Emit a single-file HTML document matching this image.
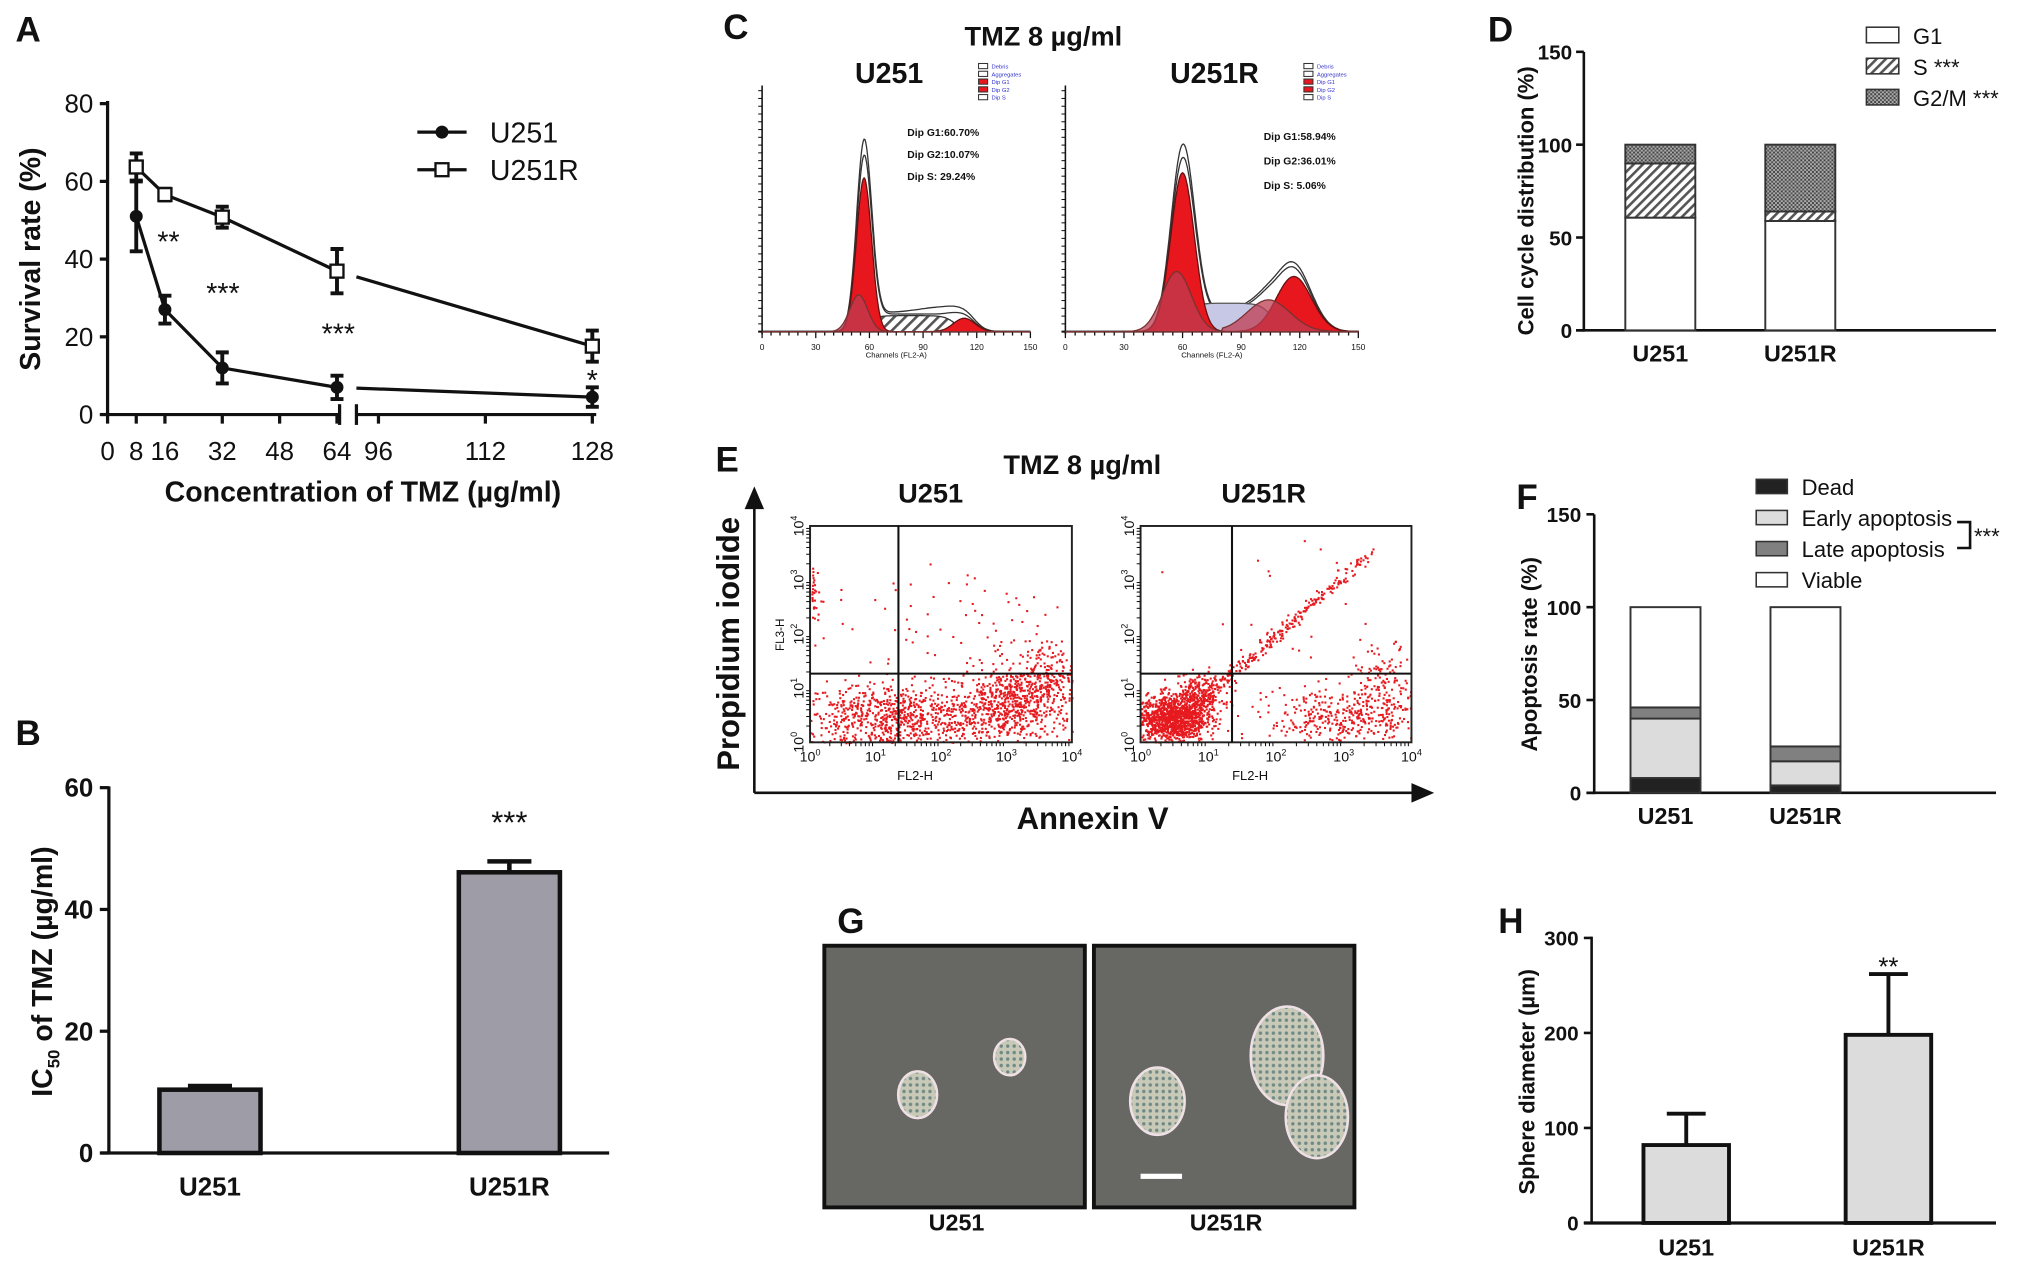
<!DOCTYPE html>
<html><head><meta charset="utf-8">
<style>
html,body{margin:0;padding:0;background:#fff;width:2031px;height:1267px;overflow:hidden}
svg{display:block}
text{font-family:"Liberation Sans",sans-serif;fill:#111}
.b{font-weight:bold}
</style></head>
<body>
<svg id="fig" xmlns="http://www.w3.org/2000/svg" width="2031" height="1267" viewBox="0 0 1567 978" preserveAspectRatio="none">
<defs>
<pattern id="hatch" patternUnits="userSpaceOnUse" width="5" height="5" patternTransform="rotate(45)">
<rect width="5" height="5" fill="#fff"/><rect width="2" height="5" fill="#555"/></pattern>
<pattern id="dots" patternUnits="userSpaceOnUse" width="3" height="3">
<rect width="3" height="3" fill="#aaa"/><rect width="1.5" height="1.5" fill="#444"/><rect x="1.5" y="1.5" width="1.5" height="1.5" fill="#555"/></pattern>
<pattern id="chatch" patternUnits="userSpaceOnUse" width="6" height="6" patternTransform="rotate(45)">
<rect width="6" height="6" fill="#fff"/><rect width="2" height="6" fill="#555"/></pattern>
<pattern id="cells" patternUnits="userSpaceOnUse" width="5" height="5">
<rect width="5" height="5" fill="#c9c9b8"/><circle cx="2.5" cy="2.5" r="1.3" fill="#6f8a86"/></pattern>
</defs>
<g id="root"></g>
</svg>
<script>
// ---------- Panel A data ----------
const A_conc=[8,16,32,64,128];
const A_u251=[51,27,12,7,4.5];
const A_u251Err=[9,3.6,4,3,2.5];
const A_u251r=[63.7,56.6,50.8,36.9,17.6];
const A_u251rErr=[3.5,1.5,2.7,5.7,4];
const A_yTicks=[0,20,40,60,80];
const A_xTicks=[0,8,16,32,48,64,96,112,128];
const A_stars=["**","***","***","*"];
// ---------- Panel B ----------
const B_groups=["U251","U251R"];
const B_vals=[10.4,46.1];
const B_errs=[0.6,1.8];
const B_yTicks=[0,20,40,60];
// ---------- Panel D ----------
const D_groups=["U251","U251R"];
const D_G1=[60.7,58.9];
const D_S=[29.2,5.1];
const D_G2=[10.1,36.0];
const D_yTicks=[0,50,100,150];
// ---------- Panel F ----------
const F_groups=["U251","U251R"];
const F_dead=[8,4];
const F_early=[32,13];
const F_late=[6,8];
const F_viable=[54,75];
const F_yTicks=[0,50,100,150];
// ---------- Panel H ----------
const H_groups=["U251","U251R"];
const H_vals=[82,198];
const H_errs=[33,64];
const H_yTicks=[0,100,200,300];
// ---------- Panel C (histogram component params: mean channel, sd, height) ----------
const C1_G1=[57,4.2,460]; const C1_dark=[54,5,110]; const C1_G2=[113,6,40]; const C1_S=[58,108,48];
const C2_G1=[60,6,475]; const C2_dark=[57,7.5,180]; const C2_G2=[117,9,165]; const C2_darkG2=[104,11,95]; const C2_S=[60,106,85];
const C_texts1=["Dip G1:60.70%","Dip G2:10.07%","Dip S: 29.24%"];
const C_texts2=["Dip G1:58.94%","Dip G2:36.01%","Dip  S: 5.06%"];
// ---------- Panel E clusters [cx,cy,sx,sy,n] in log decades ----------
const E1_clusters=[[1.3,0.45,0.9,0.32,900],[3.1,0.7,0.45,0.35,600],[3.5,1.25,0.25,0.3,180],[2.4,2.3,1.1,0.6,70],[0.05,2.7,0.05,0.35,40]];
const E2_clusters=[[0.45,0.45,0.25,0.22,1100],[0.85,0.85,0.18,0.2,300],[3.0,0.45,0.55,0.3,380],[3.6,1.1,0.22,0.35,120],[2.5,2.2,1.0,0.8,25]];
const E2_diag=[1.0,3.4,260];

const NS="http://www.w3.org/2000/svg";
const root=document.getElementById('root');
function el(tag,attrs,parent,txt){const e=document.createElementNS(NS,tag);for(const k in attrs)e.setAttribute(k,attrs[k]);if(txt!==undefined)e.textContent=txt;(parent||root).appendChild(e);return e;}
function grp(name){const g=el('g',{});return g;}
function label(g,x,y,t,size,anchor,bold,name,rot){const e=el('text',{x:x,y:y,'font-size':size,'text-anchor':anchor||'middle'},g,t);if(bold)e.setAttribute('font-weight','bold');if(rot)e.setAttribute('transform','rotate(-90 '+x+' '+y+')');return e;}
function line(g,x1,y1,x2,y2,w,c){return el('line',{x1:x1,y1:y1,x2:x2,y2:y2,stroke:c||'#111','stroke-width':w||2},g);}

// panel letters
[["A",12,32],["B",12,575],["C",558,30],["D",1148,32],["E",552,364],["F",1170,393],["G",646,720],["H",1156,720]].forEach(p=>{label(root,p[1],p[2],p[0],27,'start',true,'panel-label-'+p[0].toLowerCase());});

// ================= Panel A =================
(function(){
const g=grp('panel-a-survival-chart');
const xA=v=>v<=64?83+v*(177/64):292+(v-96)*(165/32);
const yA=v=>320-v*3;
line(g,83,78,83,321,2.5);
line(g,83,320,262,320,2.5);line(g,275,320,460,320,2.5);
line(g,262,312,262,328,2.5);line(g,275,312,275,328,2.5);
A_yTicks.forEach(v=>{line(g,77,yA(v),83,yA(v),2.5);label(g,72,yA(v)+7,String(v),20,'end',false,'y-tick-label');});
A_xTicks.forEach(v=>{const x=xA(v);line(g,x,320,x,327,2.5);label(g,x,355,String(v),20,'middle',false,'x-tick-label');});
label(g,280,387,"Concentration of TMZ (µg/ml)",22,'middle',true,'x-axis-title');
label(g,31,200,"Survival rate (%)",22,'middle',true,'y-axis-title',true);
function series(vals,errs,name,open){
  const sg=el('g',{},g);
  for(let i=0;i<vals.length-1;i++){
    let x1=xA(A_conc[i]),y1=yA(vals[i]),x2=xA(A_conc[i+1]),y2=yA(vals[i+1]);
    if(A_conc[i]===64){const t=(275-x1)/(x2-x1);y1=y1+(y2-y1)*t;x1=275;}
    const l=line(sg,x1,y1,x2,y2,2.5);
  }
  vals.forEach((v,i)=>{
    const x=xA(A_conc[i]);const e=errs[i];
    const eb=el('path',{d:`M${x},${yA(v+e)}V${yA(v-e)}M${x-5},${yA(v+e)}H${x+5}M${x-5},${yA(v-e)}H${x+5}`,stroke:'#111','stroke-width':3,fill:'none'},sg);
    
    let m;
    if(open)m=el('rect',{x:x-5,y:yA(v)-5,width:10,height:10,fill:'#fff',stroke:'#111','stroke-width':1.8},sg);
    else m=el('circle',{cx:x,cy:yA(v),r:5,fill:'#111'},sg);
    
  });
}
series(A_u251,A_u251Err,'u251',false);
series(A_u251r,A_u251rErr,'u251r',true);
const starPos=[[130,194],[172,234],[261,265],[457,301]];
A_stars.forEach((s,i)=>label(g,starPos[i][0],starPos[i][1],s,22,'middle',false,'significance-stars'));
const lg=el('g',{},g);
line(lg,322,102,360,102,2.5);el('circle',{cx:341,cy:102,r:5,fill:'#111'},lg);label(lg,378,110,"U251",22,'start',false,'legend-entry-u251');
line(lg,322,131,360,131,2.5);el('rect',{x:336,y:126,width:10,height:10,fill:'#fff',stroke:'#111','stroke-width':1.8},lg);label(lg,378,139,"U251R",22,'start',false,'legend-entry-u251r');
})();

// ================= Panel B =================
(function(){
const g=grp('panel-b-ic50-chart');
const yB=v=>890-v*(282/60);
const xs=[162,393],w=78;
line(g,84,607,84,891,2.5);line(g,78,890,470,890,2.5);
B_yTicks.forEach(v=>{line(g,77,yB(v),84,yB(v),2.5);label(g,72,yB(v)+7,String(v),20,'end',true,'y-tick-label');});
B_groups.forEach((gname,i)=>{
  const x=xs[i];
  const eb=el('path',{d:`M${x},${yB(B_vals[i])}V${yB(B_vals[i]+B_errs[i])}M${x-17},${yB(B_vals[i]+B_errs[i])}H${x+17}`,stroke:'#111','stroke-width':3.5,fill:'none'},g);
  
  const r=el('rect',{x:x-w/2,y:yB(B_vals[i]),width:w,height:yB(0)-yB(B_vals[i]),fill:'#9e9ca6',stroke:'#111','stroke-width':3.5},g);
  
  label(g,x,923,gname,20,'middle',true,'x-tick-label');
});
label(g,xs[1],643,"***",24,'middle',false,'significance-stars');
const t=label(g,40,750,"",22,'middle',true,'y-axis-title',true);
el('tspan',{},t,"IC");el('tspan',{'font-size':13,dy:6},t,"50");el('tspan',{dy:-6},t," of TMZ (µg/ml)");
})();

// ================= Panel C =================
function gauss(ch,p){return p[2]*Math.exp(-0.5*Math.pow((ch-p[0])/p[1],2));}
function plateau(ch,p){const e=3;const a=1/(1+Math.exp(-(ch-p[0])/e)),b=1/(1+Math.exp((ch-p[1])/e));return p[2]*a*b;}
function histo(g,x0,x1,top,comps,name){
  const base=256;const xC=ch=>x0+ch*(x1-x0)/150;const yC=v=>base-v*0.258;
  line(g,x0,top,x0,base+2,1.2);line(g,x0-3,base,x1,base,1.5);
  for(let c=0;c<=150;c+=5){line(g,xC(c),base,xC(c),base+(c%30==0?5:3),1);}
  [0,30,60,90,120,150].forEach(c=>label(g,xC(c),base+14,String(c),6.5,'middle',false,'x-tick-label'));
  for(let y=base;y>top;y-=6)line(g,x0-3,y,x0,y,0.8);
  label(g,(x0+x1)/2,base+20,"Channels (FL2-A)",6,'middle',false,'x-axis-title');
  function area(fn,fill,stroke,nm){let d=`M${xC(0)},${base}`;for(let c=0;c<=150;c+=0.5)d+=`L${xC(c).toFixed(1)},${yC(fn(c)).toFixed(1)}`;d+=`L${xC(150)},${base}Z`;const p=el('path',{d:d,fill:fill,stroke:stroke||'none','stroke-width':1},g);return p;}
  comps.forEach(c=>area(c.fn,c.fill,c.stroke,c.name));
}
(function(){
const g=grp('panel-c-cell-cycle-histograms');
label(g,805,35,"TMZ 8 µg/ml",21,'middle',true,'panel-c-title');
label(g,686,64,"U251",22,'middle',true,'histogram-title-u251');
label(g,937,64,"U251R",22,'middle',true,'histogram-title-u251r');
const tot1=c=>gauss(c,C1_G1)+plateau(c,C1_S)+gauss(c,C1_G2);
histo(g,588,795,66,[
 {fn:c=>tot1(c)*1.2+gauss(c,[100,12,16]),fill:'none',stroke:'#333',name:'envelope-outer'},
 {fn:c=>tot1(c)*1.1,fill:'#fff',stroke:'#333',name:'envelope'},
 {fn:c=>plateau(c,C1_S),fill:'url(#chatch)',stroke:'#333',name:'s-phase'},
 {fn:c=>gauss(c,C1_G1),fill:'#e8171e',stroke:'#611',name:'g1-peak'},
 {fn:c=>gauss(c,C1_G2),fill:'#e8171e',stroke:'#611',name:'g2-peak'},
 {fn:c=>gauss(c,C1_dark),fill:'rgba(190,60,80,0.75)',stroke:'#733',name:'debris'}
],'u251-histogram');
const tot2=c=>gauss(c,C2_G1)+plateau(c,C2_S)*0.6+gauss(c,C2_G2)+gauss(c,C2_darkG2)*0.4;
histo(g,822,1048,66,[
 {fn:c=>tot2(c)*1.12,fill:'none',stroke:'#333',name:'envelope-outer'},
 {fn:c=>tot2(c)*1.04,fill:'#fff',stroke:'#333',name:'envelope'},
 {fn:c=>plateau(c,C2_S),fill:'#c7c8e6',stroke:'#555',name:'s-phase'},
 {fn:c=>gauss(c,C2_G1),fill:'#e8171e',stroke:'#611',name:'g1-peak'},
 {fn:c=>gauss(c,C2_G2),fill:'#e8171e',stroke:'#611',name:'g2-peak'},
 {fn:c=>gauss(c,C2_dark)+gauss(c,C2_darkG2)*(c>80?1:0),fill:'rgba(190,60,80,0.75)',stroke:'#733',name:'debris'}
],'u251r-histogram');
C_texts1.forEach((t,i)=>{const e=label(g,700,105+i*17,t,8,'start',true,'u251-percent-text');e.setAttribute('font-family','Liberation Mono, monospace');});
C_texts2.forEach((t,i)=>{const e=label(g,975,108+i*19,t,8,'start',true,'u251r-percent-text');e.setAttribute('font-family','Liberation Mono, monospace');});
[[755,49],[1006,49]].forEach((p,j)=>{
 const lg=el('g',{},g);
 ["Debris","Aggregates","Dip G1","Dip G2","Dip S"].forEach((t,i)=>{
  el('rect',{x:p[0],y:p[1]+i*6,width:7,height:4,fill:(i==2||i==3)?'#e8171e':'#fff',stroke:'#333','stroke-width':0.8},lg);
  el('text',{x:p[0]+10,y:p[1]+i*6+4,'font-size':4.5,style:'fill:#33c'},lg,t);
 });
});
})();

// ================= Panel D =================
(function(){
const g=grp('panel-d-cell-cycle-chart');
const yD=v=>255-v*(215/150);const xs=[1281,1389],w=54;
line(g,1222,40,1222,256,2);line(g,1216,255,1540,255,2);
D_yTicks.forEach(v=>{line(g,1216,yD(v),1222,yD(v),2);label(g,1213,yD(v)+6,String(v),16,'end',true,'y-tick-label');});
D_groups.forEach((gn,i)=>{
 const segs=[[0,D_G1[i],'#fff','g1'],[D_G1[i],D_G1[i]+D_S[i],'url(#hatch)','s'],[D_G1[i]+D_S[i],D_G1[i]+D_S[i]+D_G2[i],'url(#dots)','g2m']];
 segs.forEach(s=>{const r=el('rect',{x:xs[i]-w/2,y:yD(s[1]),width:w,height:yD(s[0])-yD(s[1]),fill:s[2],stroke:'#333','stroke-width':1.5},g);});
 label(g,xs[i],279,gn,18,'middle',true,'x-tick-label');
});
label(g,1183,155,"Cell cycle distribution (%)",17,'middle',true,'y-axis-title',true);
const lg=el('g',{},g);
[["G1",'#fff'],["S  ***",'url(#hatch)'],["G2/M ***",'url(#dots)']].forEach((e,i)=>{
 el('rect',{x:1440,y:21+i*24,width:25,height:12,fill:e[1],stroke:'#333','stroke-width':1.2},lg);
 label(lg,1476,34+i*24,e[0],17,'start',false,'legend-entry');
});
})();

// ================= Panel E =================
let seed=12345;function rnd(){seed=(seed*1103515245+12345)%2147483648;return seed/2147483648;}
function nrm(){let u=rnd()||1e-6,v=rnd();return Math.sqrt(-2*Math.log(u))*Math.cos(2*Math.PI*v);}
function scatter(g,x0,x1,y0,y1,clusters,diag,qx,name){
 const xL=v=>x0+v/4*(x1-x0),yL=v=>y1-v/4*(y1-y0);
 const pg=el('g',{fill:'#e61a1f'},g);
 function pt(a,b){if(a<0||a>4||b<0||b>4)return;el('rect',{x:xL(a).toFixed(1),y:yL(b).toFixed(1),width:1.6,height:1.6},pg);}
 clusters.forEach(c=>{for(let k=0;k<c[4];k++)pt(c[0]+nrm()*c[2],c[1]+nrm()*c[3]);});
 if(diag){for(let k=0;k<diag[2];k++){const t=diag[0]+rnd()*(diag[1]-diag[0]);pt(t+nrm()*0.05,t*1.1-0.2+nrm()*0.06);}}
 const b=el('rect',{x:x0,y:y0,width:x1-x0,height:y1-y0,fill:'none',stroke:'#222','stroke-width':1.5},g);
 line(g,xL(qx),y0,xL(qx),y1,1.6);line(g,x0,yL(1.27),x1,yL(1.27),1.6);
 for(let d=0;d<=4;d++){
  const tx=el('text',{x:xL(d),y:y1+15,'font-size':11,'text-anchor':'middle'},g);tx.appendChild(document.createTextNode('10'));el('tspan',{'font-size':7,dy:-5},tx,String(d));
  const ty=el('text',{x:x0-5,y:yL(d),'font-size':11,'text-anchor':'middle',transform:`rotate(-90 ${x0-5} ${yL(d)})`},g);ty.appendChild(document.createTextNode('10'));el('tspan',{'font-size':7,dy:-5},ty,String(d));
  for(let m=2;m<10&&d<4;m++){const f=d+Math.log10(m);line(g,xL(f),y1,xL(f),y1+3,0.8);line(g,x0-3,yL(f),x0,yL(f),0.8);}
 }
 label(g,(x0+x1)/2-20,y1+29,"FL2-H",10,'middle',false,'x-axis-label');
}
(function(){
const g=grp('panel-e-flow-cytometry');
label(g,835,366,"TMZ 8 µg/ml",21,'middle',true,'panel-e-title');
label(g,718,388,"U251",21,'middle',true,'scatter-title-u251');
label(g,975,388,"U251R",21,'middle',true,'scatter-title-u251r');
scatter(g,625,827,406,573,E1_clusters,null,1.35,'u251-scatter');
label(g,605,490,"FL3-H",9,'middle',false,'y-axis-label',true);
scatter(g,880,1089,406,573,E2_clusters,E2_diag,1.35,'u251r-scatter');
const ax=el('path',{d:'M582,612V382M576,392L582,378L588,392Z M582,612H1100M1090,606L1104,612L1090,618Z',stroke:'#111','stroke-width':2,fill:'#111'},g);
label(g,570,497,"Propidium iodide",24,'middle',true,'y-axis-title',true);
label(g,843,640,"Annexin V",24,'middle',true,'x-axis-title');
})();

// ================= Panel F =================
(function(){
const g=grp('panel-f-apoptosis-chart');
const yF=v=>612-v*(215/150);const xs=[1285,1393],w=54;
line(g,1230,397,1230,613,2);line(g,1224,612,1540,612,2);
F_yTicks.forEach(v=>{line(g,1224,yF(v),1230,yF(v),2);label(g,1220,yF(v)+6,String(v),16,'end',true,'y-tick-label');});
F_groups.forEach((gn,i)=>{
 let acc=0;
 [[F_dead[i],'#222','dead'],[F_early[i],'#dcdcdc','early'],[F_late[i],'#808080','late'],[F_viable[i],'#fff','viable']].forEach(s=>{
  const r=el('rect',{x:xs[i]-w/2,y:yF(acc+s[0]),width:w,height:yF(acc)-yF(acc+s[0]),fill:s[1],stroke:'#333','stroke-width':1.5},g);
  acc+=s[0];
 });
 label(g,xs[i],636,gn,18,'middle',true,'x-tick-label');
});
label(g,1186,505,"Apoptosis rate (%)",17,'middle',true,'y-axis-title',true);
const lg=el('g',{},g);
[["Dead",'#222'],["Early apoptosis",'#dcdcdc'],["Late apoptosis",'#808080'],["Viable",'#fff']].forEach((e,i)=>{
 el('rect',{x:1355,y:370+i*24,width:24,height:11,fill:e[1],stroke:'#333','stroke-width':1.2},lg);
 label(lg,1390,382+i*24,e[0],17,'start',false,'legend-entry');
});
el('path',{d:'M1510,403H1520V423H1510',stroke:'#111','stroke-width':2,fill:'none'},lg);
label(lg,1523,420,"***",17,'start',false,'legend-significance');
})();

// ================= Panel G =================
(function(){
const g=grp('panel-g-sphere-images');
[[636,'u251'],[844,'u251r']].forEach(p=>{
 const r=el('rect',{x:p[0],y:730,width:201,height:202,fill:'#676863',stroke:'#111','stroke-width':3},g);
});
[[708,845,15,18],[779,816,12,14],[893,850,21,26],[993,815,28,38],[1016,862,24,32]].forEach(s=>{
 const e=el('ellipse',{cx:s[0],cy:s[1],rx:s[2],ry:s[3],fill:'url(#cells)',stroke:'#eee0e4','stroke-width':2},g);
});
const sb=el('rect',{x:880,y:906,width:32,height:4,fill:'#fff'},g);
label(g,738,950,"U251",18,'middle',true,'image-label-u251');
label(g,946,950,"U251R",18,'middle',true,'image-label-u251r');
})();

// ================= Panel H =================
(function(){
const g=grp('panel-h-sphere-diameter-chart');
const yH=v=>944-v*(220/300);const xs=[1301,1457],w=66;
line(g,1228,723,1228,945,2);line(g,1222,944,1540,944,2.5);
H_yTicks.forEach(v=>{line(g,1222,yH(v),1228,yH(v),2);label(g,1218,yH(v)+6,String(v),16,'end',true,'y-tick-label');});
H_groups.forEach((gn,i)=>{
 const eb=el('path',{d:`M${xs[i]},${yH(H_vals[i])}V${yH(H_vals[i]+H_errs[i])}M${xs[i]-15},${yH(H_vals[i]+H_errs[i])}H${xs[i]+15}`,stroke:'#111','stroke-width':3,fill:'none'},g);
 
 const r=el('rect',{x:xs[i]-w/2,y:yH(H_vals[i]),width:w,height:yH(0)-yH(H_vals[i]),fill:'#dcdcdc',stroke:'#111','stroke-width':3},g);
 
 label(g,xs[i],969,gn,18,'middle',true,'x-tick-label');
});
label(g,xs[1],753,"**",20,'middle',false,'significance-stars');
label(g,1184,835,"Sphere diameter (µm)",17,'middle',true,'y-axis-title',true);
})();
</script>
</body></html>
